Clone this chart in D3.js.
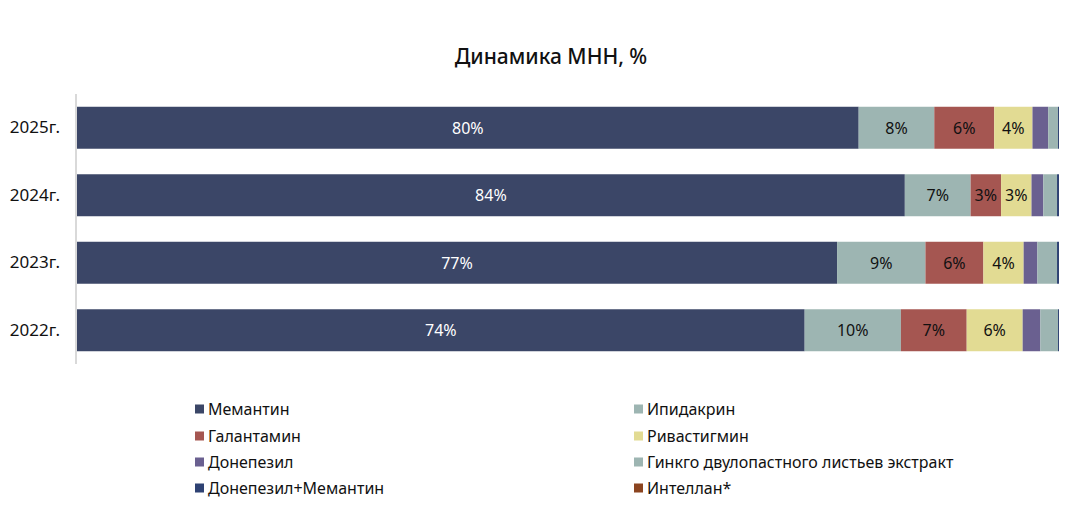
<!DOCTYPE html>
<html><head><meta charset="utf-8">
<script src="https://cdn.jsdelivr.net/npm/d3@7"></script>
<style>body{margin:0;background:#fff;font-family:"Noto Sans",sans-serif;}</style>
</head><body>
<svg id="c" width="1082" height="506"></svg>
<script>
const years = ["2025г.", "2024г.", "2023г.", "2022г."];
const series = ["Мемантин", "Ипидакрин", "Галантамин", "Ривастигмин", "Донепезил", "Гинкго двулопастного листьев экстракт", "Донепезил+Мемантин", "Интеллан*"];
const colors = ["#3b4667", "#9db5b2", "#a55651", "#e2db93", "#6a6090", "#9db5b2", "#2e4273", "#8b4420"];
const memantin   = [79.6, 84.3, 77.4, 74.1];
const ipidakrin  = [7.7, 6.7, 9.0, 9.8];
const galantamin = [6.1, 3.1, 5.9, 6.7];
const rivastig   = [3.9, 3.1, 4.1, 5.7];
const donepezil  = [1.6, 1.2, 1.4, 1.8];
const ginkgo     = [1.0, 1.4, 2.0, 1.8];
const donMem     = [0.1, 0.2, 0.2, 0.1];
const intellan   = [0.0, 0.0, 0.0, 0.0];
const values = [memantin, ipidakrin, galantamin, rivastig, donepezil, ginkgo, donMem, intellan];

const svg = d3.select("#c");
const x = d3.scaleLinear().domain([0, 100]).range([77, 1059]);
const y = d3.scaleBand().domain(years).range([94, 364]).paddingInner(0.378).paddingOuter(0.189);

svg.append("text").attr("x", 551).attr("y", 64).attr("text-anchor", "middle")
  .attr("font-size", 21).attr("font-weight", 500).attr("fill", "#111").text("Динамика МНН, %");

const rows = years.map((yr, i) => {
  let acc = 0;
  return series.map((s, j) => { const v = values[j][i]; const r = {yr, s, j, v, x0: acc, x1: acc + v}; acc += v; return r; });
});

rows.forEach(r => {
  r.forEach(d => {
    if (d.v <= 0) return;
    svg.append("rect").attr("x", x(d.x0)).attr("y", y(d.yr))
      .attr("width", x(d.x1) - x(d.x0)).attr("height", y.bandwidth()).attr("fill", colors[d.j]);
    if (d.v >= 2.5) {
      svg.append("text").attr("x", (x(d.x0) + x(d.x1)) / 2).attr("y", y(d.yr) + y.bandwidth() / 2)
        .attr("dy", "0.36em").attr("text-anchor", "middle").attr("font-size", 16)
        .attr("fill", d.j === 0 ? "#fff" : "#111").text(Math.round(d.v) + "%");
    }
  });
});

svg.append("line").attr("x1", 76).attr("x2", 76).attr("y1", 94).attr("y2", 364)
  .attr("stroke", "#d9d9d9").attr("stroke-width", 2);

const yAxis = svg.append("g").attr("transform", "translate(75,0)")
  .call(d3.axisLeft(y).tickSize(0).tickPadding(15));
yAxis.select(".domain").remove();
yAxis.selectAll("text").attr("font-size", 17).attr("fill", "#111").attr("font-family", "Noto Sans");

const legendY = [409, 436, 462, 488];
series.forEach((s, i) => {
  const col = i % 2, row = Math.floor(i / 2);
  const lx = col === 0 ? 195 : 634;
  const g = svg.append("g").attr("transform", `translate(${lx},${legendY[row]})`);
  g.append("rect").attr("x", 0).attr("y", -4.5).attr("width", 9).attr("height", 9).attr("fill", colors[i]);
  g.append("text").attr("x", 13).attr("y", 0).attr("dy", "0.36em").attr("font-size", 16).attr("fill", "#111").text(s);
});
</script>
</body></html>
